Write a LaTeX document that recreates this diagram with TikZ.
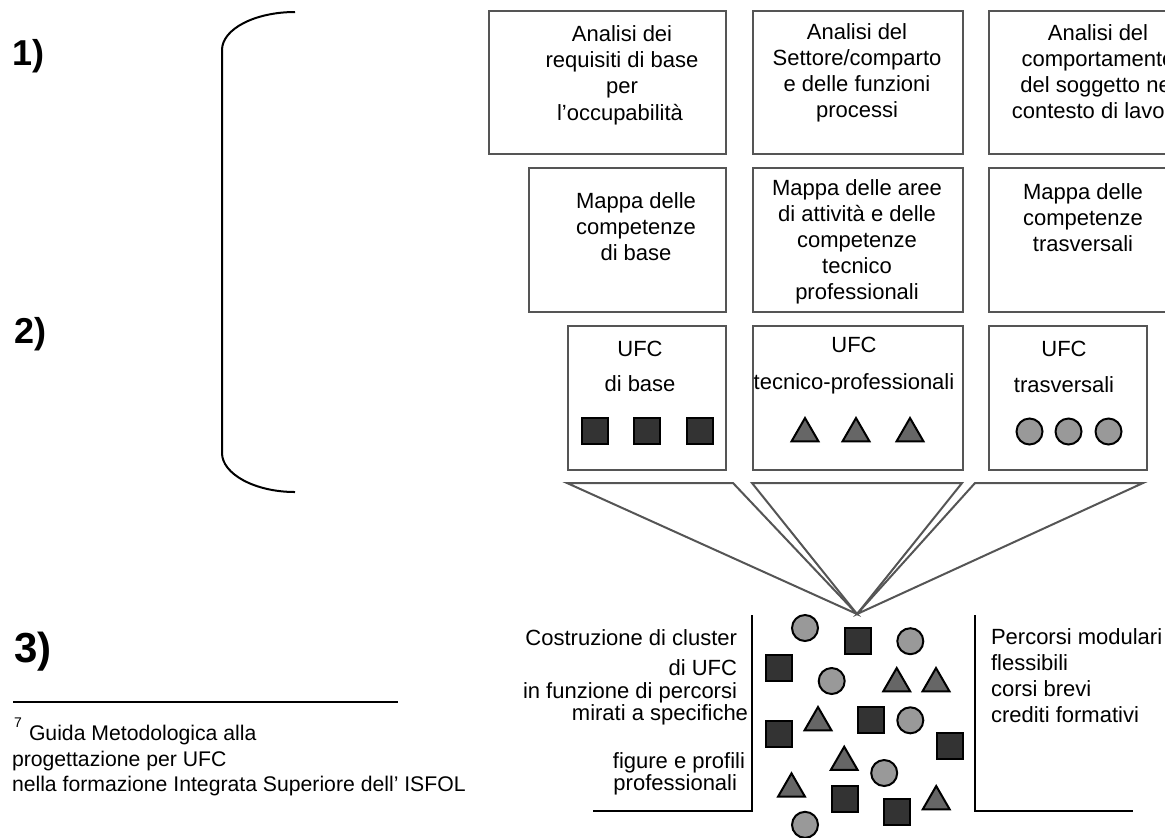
\documentclass[tikz,border=0pt]{standalone}
\usepackage{fontspec}
\setmainfont{Liberation Sans}
\usetikzlibrary{shapes.geometric}
\definecolor{boxgray}{HTML}{555555}
\definecolor{sqfill}{HTML}{333333}
\definecolor{trifill}{HTML}{666666}
\definecolor{cirfill}{HTML}{999999}
\begin{document}
\begin{tikzpicture}[x=0.5pt,y=-0.5pt,
  box/.style={draw=boxgray, line width=1.3pt, rectangle, inner sep=0pt, outer sep=0pt},
  txt/.style={font=\fontsize{11}{13}\selectfont, inner sep=0pt, outer sep=0pt, align=center, anchor=north},
  ltxt/.style={font=\fontsize{11}{13}\selectfont, inner sep=0pt, outer sep=0pt},
  ftxt/.style={font=\fontsize{10.6}{13}\selectfont, inner sep=0pt, outer sep=0pt, anchor=base west},
  num/.style={font=\bfseries\fontsize{18}{20}\selectfont, inner sep=0pt, outer sep=0pt, anchor=base west},
  sq/.style={draw=black, line width=1pt, fill=sqfill, rectangle, minimum size=13pt, inner sep=0pt},
  cir/.style={draw=black, line width=1pt, fill=cirfill, circle, minimum size=13pt, inner sep=0pt},
  tri/.style={draw=black, line width=1pt, fill=trifill, regular polygon, regular polygon sides=3, minimum size=15.5pt, inner sep=0pt},
  funnel/.style={draw=boxgray, line width=1pt, line join=miter},
  blk/.style={draw=black, line width=1pt}
]
\useasboundingbox (0,0) rectangle (1165,837);
\clip (0,0) rectangle (1165,837);

% section numbers
\node[num] (n1) at (12,65) {1)};
\node[num] (n2) at (14,343) {2)};
\node[num, font=\bfseries\fontsize{21}{24}\selectfont] (n3) at (14,662) {3)};

% bracket
\coordinate (B1) at (295,12);
\coordinate (B2) at (222,50);
\coordinate (B3) at (222,453);
\coordinate (B4) at (295,492);
\draw[blk] (B1) .. controls (255,12) and (222,29) .. (B2) -- (B3) .. controls (222,474) and (255,492) .. (B4);

% row 1 boxes
\node[box, minimum width=118.5pt, minimum height=71.5pt] (a1) at (607.5,82.5) {};
\node[box, minimum width=105pt, minimum height=71.5pt] (a2) at (858,82.5) {};
\node[box, minimum width=109pt, minimum height=71.5pt] (a3) at (1098,82.5) {};
\node[txt] (ta1) at (622,26) {Analisi dei\\requisiti di base\\per};
\node[ltxt, anchor=base] (ta1b) at (620,120) {l’occupabilità};
\node[txt] (ta2) at (857,24) {Analisi del\\Settore/comparto\\e delle funzioni\\processi};
\node[txt] (ta3) at (1098,25) {Analisi del\\comportamento\\del soggetto nel\\contesto di lavoro};

% row 2 boxes
\node[box, minimum width=98.5pt, minimum height=72pt] (b1) at (627.5,240) {};
\node[box, minimum width=105pt, minimum height=72pt] (b2) at (858,240) {};
\node[box, minimum width=109pt, minimum height=72pt] (b3) at (1098,240) {};
\node[txt] (tb1) at (636,193) {Mappa delle\\competenze\\di base};
\node[txt] (tb2) at (857,180) {Mappa delle aree\\di attività e delle\\competenze\\tecnico\\professionali};
\node[txt] (tb3) at (1083,184) {Mappa delle\\competenze\\trasversali};

% row 3 boxes
\node[box, minimum width=79pt, minimum height=72pt] (c1) at (647,398) {};
\node[box, minimum width=105pt, minimum height=72pt] (c2) at (858,398) {};
\node[box, minimum width=79pt, minimum height=72pt] (c3) at (1068,398) {};
\node[txt] (tc1) at (640,341) {UFC\\[4.5pt]di base};
\node[txt] (tc2) at (854,337) {UFC\\[5.5pt]tecnico-professionali};
\node[txt] (tc3) at (1064,341) {UFC\\[5pt]trasversali};

\node[sq] (s1) at (594.5,431) {};
\node[sq] (s2) at (646.5,431) {};
\node[sq] (s3) at (699.5,431) {};
\node[tri] (r1) at (805,433.5) {};
\node[tri] (r2) at (856,433.5) {};
\node[tri] (r3) at (910,433.5) {};
\node[cir] (o1) at (1029.5,431.5) {};
\node[cir] (o2) at (1068.5,431.5) {};
\node[cir] (o3) at (1108.5,431.5) {};

% funnel
\coordinate (apex) at (857,614);
\coordinate (f1) at (567,483);
\coordinate (f2) at (733,483);
\coordinate (f3) at (752,483);
\coordinate (f4) at (962,483);
\coordinate (f5) at (975,483);
\coordinate (f6) at (1143,483);
\draw[funnel] (f1) -- (f2) -- (apex) -- cycle;
\draw[funnel] (f3) -- (f4) -- (apex) -- cycle;
\draw[funnel] (f5) -- (f6) -- (apex) -- cycle;

% cluster frame
\coordinate (L1) at (752,615);
\coordinate (L2) at (752,811);
\coordinate (L3) at (593,811);
\coordinate (R1) at (975,615);
\coordinate (R2) at (975,811);
\coordinate (R3) at (1133,811);
\draw[blk] (L1) -- (L2) -- (L3);
\draw[blk] (R1) -- (R2) -- (R3);

% scattered shapes
\node[cir] (p1) at (805,628) {};
\node[sq] (p2) at (857.7,641.3) {};
\node[cir] (p3) at (910.3,641.2) {};
\node[sq] (p4) at (779,667.7) {};
\node[cir] (p5) at (831.7,681) {};
\node[tri] (p6) at (896.7,683.5) {};
\node[tri] (p7) at (936,683.5) {};
\node[sq] (p8) at (779,733.7) {};
\node[tri] (p9) at (818,722.5) {};
\node[sq] (p10) at (871,720.3) {};
\node[cir] (p11) at (910.3,720.3) {};
\node[sq] (p12) at (950,746.3) {};
\node[tri] (p13) at (844.2,762.2) {};
\node[cir] (p14) at (884.2,773) {};
\node[tri] (p15) at (791.5,788.8) {};
\node[sq] (p16) at (844.7,799) {};
\node[sq] (p17) at (897.3,812.3) {};
\node[tri] (p18) at (936.2,801.5) {};
\node[cir] (p19) at (805,824.8) {};

% left text
\node[ltxt, anchor=base east] (l1) at (737,645) {Costruzione di cluster};
\node[ltxt, anchor=base east] (l2) at (737,675) {di UFC};
\node[ltxt, anchor=base east] (l3) at (737,698) {in funzione di percorsi};
\node[ltxt, anchor=base east] (l4) at (748,720) {mirati a specifiche};
\node[ltxt, anchor=base east] (l5) at (745,768) {figure e profili};
\node[ltxt, anchor=base east] (l6) at (737,790) {professionali};

% right text
\node[ltxt, anchor=north west, align=left] (rt) at (991,629) {Percorsi modulari\\flessibili\\corsi brevi\\crediti formativi};

% footnote
\coordinate (F1) at (13,702);
\coordinate (F2) at (398,702);
\draw[draw=black, line width=0.9pt] (F1) -- (F2);
\node[ftxt, font=\fontsize{7}{8}\selectfont] (fn7) at (14,727) {7};
\node[ftxt] (fn1) at (29,740) {Guida Metodologica alla};
\node[ftxt] (fn2) at (12,766) {progettazione per UFC};
\node[ftxt] (fn3) at (12,791) {nella formazione Integrata Superiore dell’ ISFOL};
\end{tikzpicture}
\end{document}
